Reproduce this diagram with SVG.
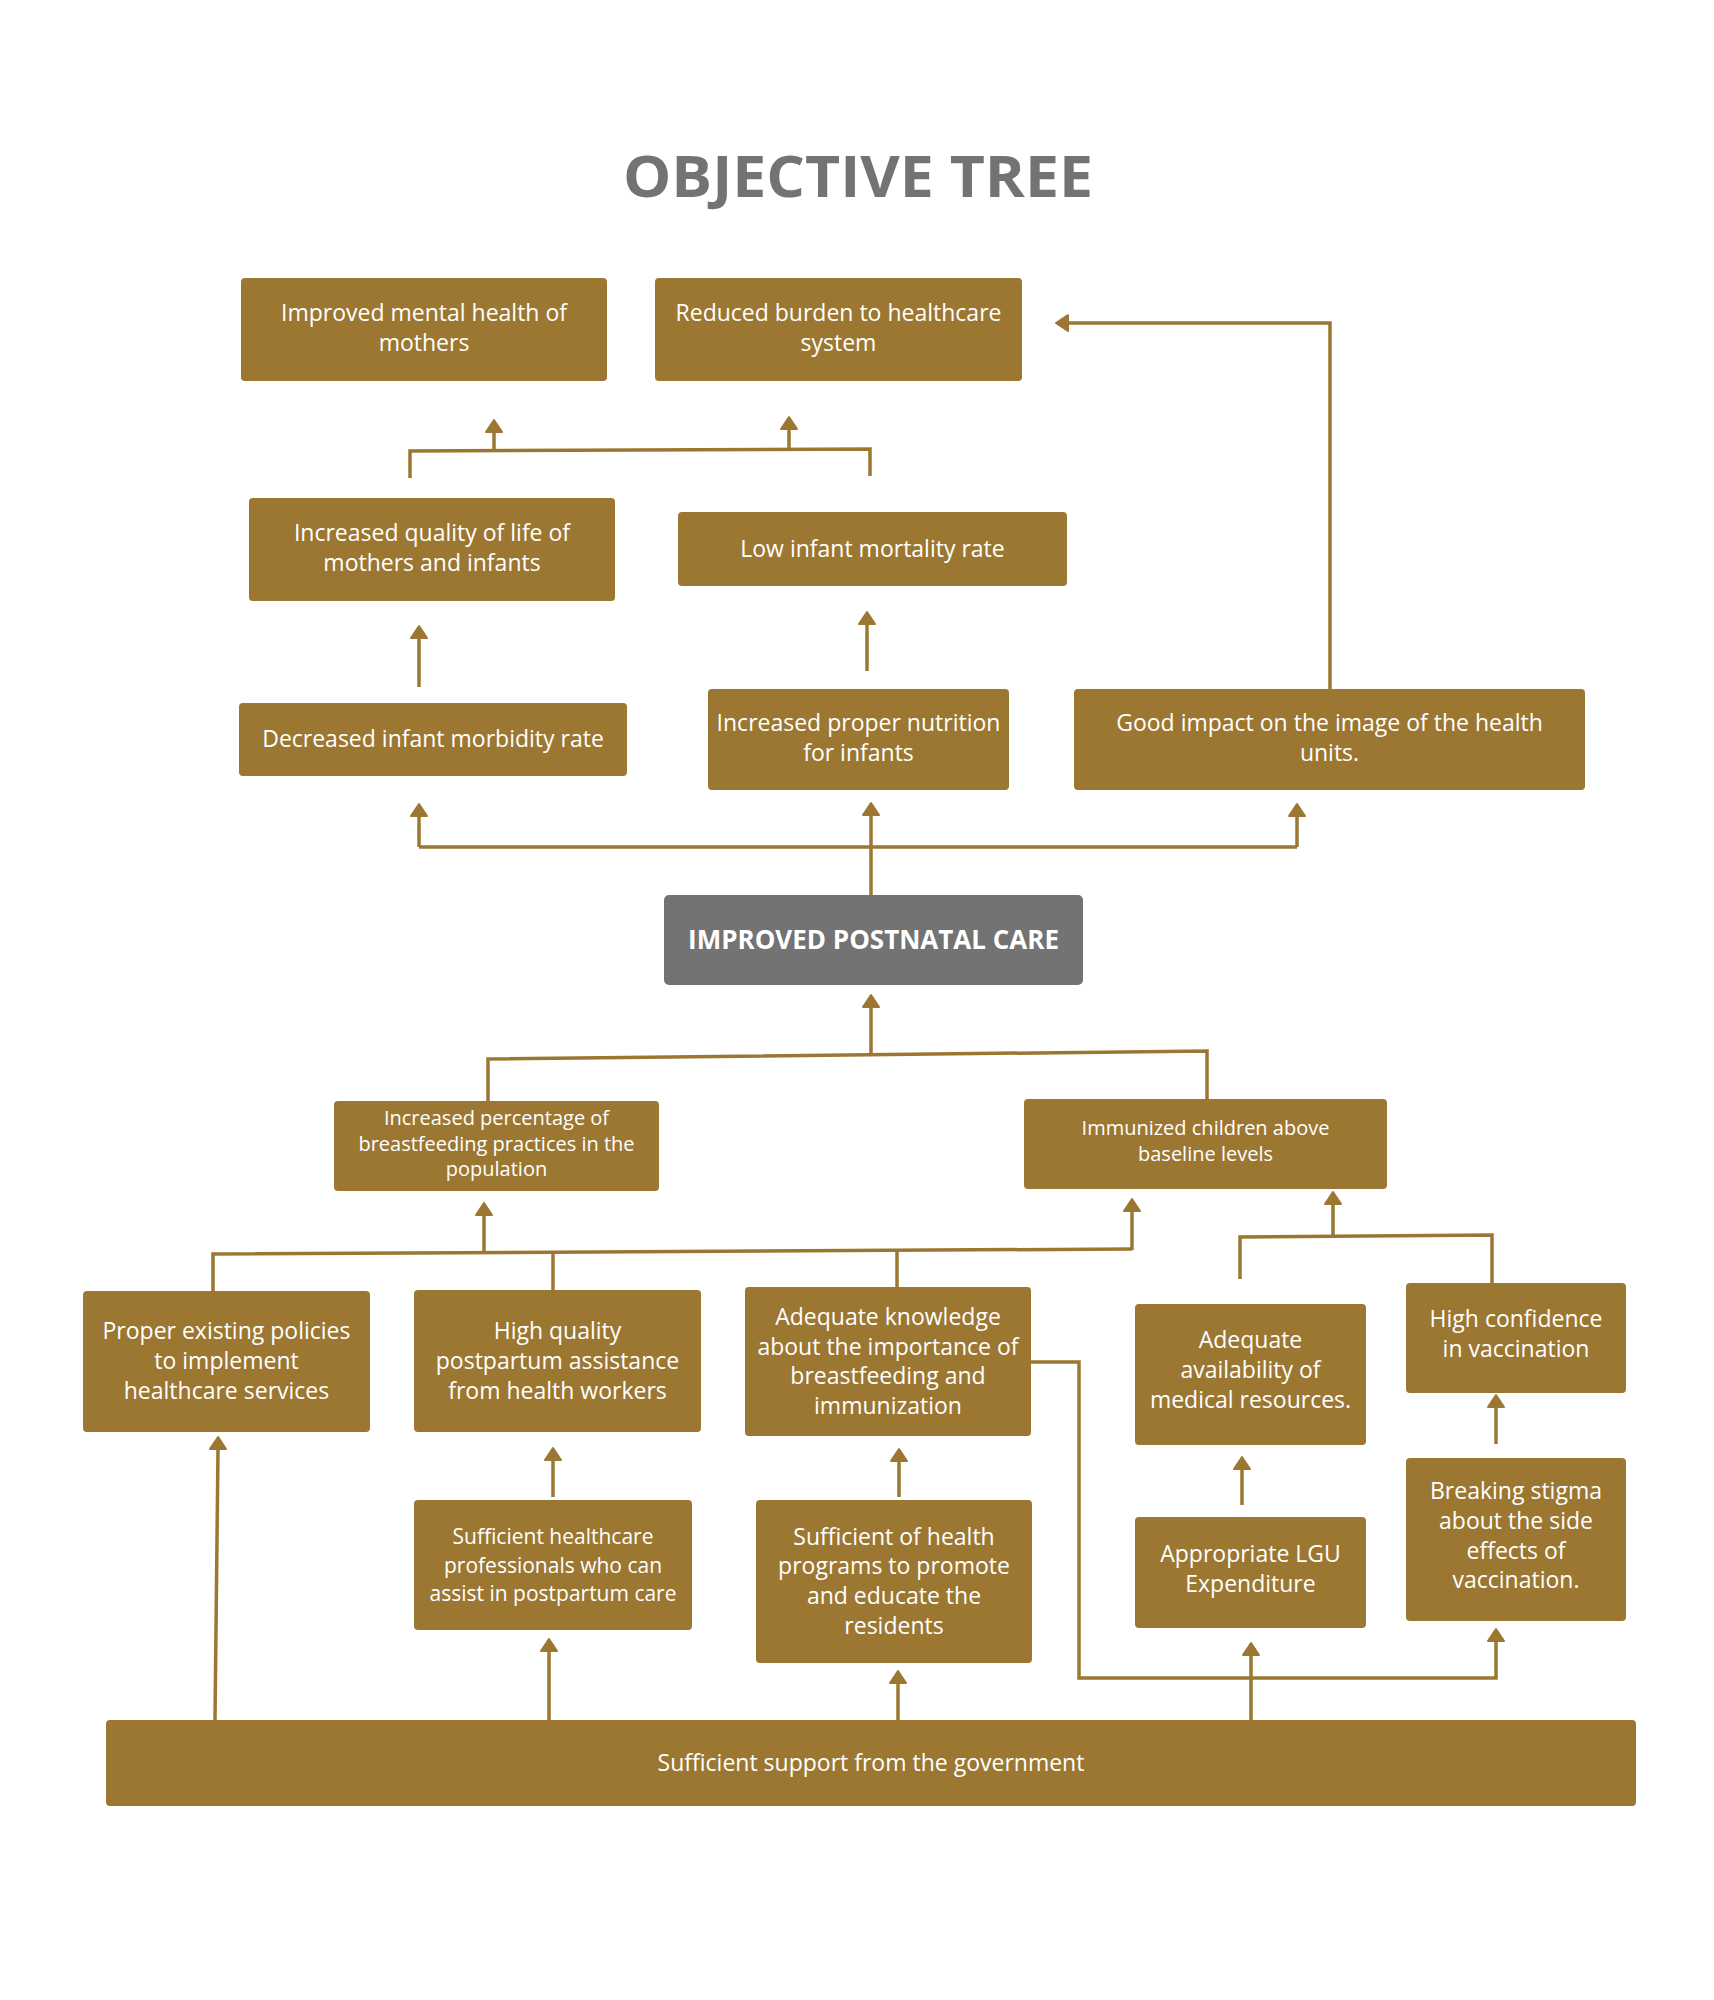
<svg xmlns="http://www.w3.org/2000/svg" width="1714" height="2000" viewBox="0 0 1714 2000">
<style>
.box{fill:#9c7732}
.gbox{fill:#737373}
.t{font-family:"Open Sans","Liberation Sans",sans-serif;fill:#ffffff;text-anchor:middle;font-size:23px}
.s{font-size:20px}
.m{font-size:21px}
.b{font-weight:700;font-size:26px}
.title{font-family:"Open Sans","Liberation Sans",sans-serif;fill:#737373;text-anchor:middle;font-size:58px;font-weight:700}
.c{fill:none;stroke:#9c7732;stroke-width:3.5}
.a{marker-end:url(#ah)}
</style>
<defs>
<marker id="ah" markerUnits="userSpaceOnUse" markerWidth="20" markerHeight="20" refX="0" refY="0" orient="auto" overflow="visible">
<path d="M0,-8 L12,0 L0,8 Z" fill="#9c7732" stroke="#9c7732" stroke-width="2" stroke-linejoin="round"/>
</marker>
</defs>
<rect width="1714" height="2000" fill="#ffffff"/>
<text class="title" x="858" y="197" textLength="470" lengthAdjust="spacingAndGlyphs">OBJECTIVE TREE</text>

<g id="connectors">
<path class="c" d="M410,478 V451 L870,449 V476"/>
<path class="c a" d="M494,451 V432"/>
<path class="c a" d="M789,450 V429"/>
<path class="c a" d="M419,687 V638"/>
<path class="c a" d="M867,671 V624"/>
<path class="c a" d="M1330,689 V323 H1068"/>
<path class="c" d="M419,847 H1297"/>
<path class="c a" d="M419,847 V816"/>
<path class="c a" d="M1297,847 V816"/>
<path class="c a" d="M871,895 V815"/>
<path class="c" d="M488,1101 V1059 L1207,1051 V1099"/>
<path class="c a" d="M871,1056 V1007"/>
<path class="c" d="M213,1291 V1254 L1132,1249"/>
<path class="c a" d="M1132,1250 V1211"/>
<path class="c a" d="M484,1253 V1215"/>
<path class="c" d="M553,1252 V1290"/>
<path class="c" d="M897,1250 V1287"/>
<path class="c" d="M1240,1279 V1237 L1492,1235 V1283"/>
<path class="c a" d="M1333,1236 V1204"/>
<path class="c a" d="M553,1497 V1460"/>
<path class="c a" d="M899,1497 V1461"/>
<path class="c a" d="M1242,1505 V1469"/>
<path class="c a" d="M1496,1444 V1407"/>
<path class="c a" d="M215,1720 L218,1449"/>
<path class="c a" d="M549,1720 V1651"/>
<path class="c a" d="M898,1720 V1683"/>
<path class="c a" d="M1251,1720 V1655"/>
<path class="c a" d="M1031,1362 H1079 V1678 H1496 V1641"/>
</g>

<g id="n1"><rect class="box" x="241" y="278" width="366" height="103" rx="4"/>
<text class="t" x="424" y="321">Improved mental health of</text><text class="t" x="424" y="351">mothers</text></g>
<g id="n2"><rect class="box" x="655" y="278" width="367" height="103" rx="4"/>
<text class="t" x="838.5" y="321">Reduced burden to healthcare</text><text class="t" x="838.5" y="351">system</text></g>
<g id="n3"><rect class="box" x="249" y="498" width="366" height="103" rx="4"/>
<text class="t" x="432" y="541">Increased quality of life of</text><text class="t" x="432" y="571">mothers and infants</text></g>
<g id="n4"><rect class="box" x="678" y="512" width="389" height="74" rx="4"/>
<text class="t" x="872.5" y="557">Low infant mortality rate</text></g>
<g id="n5"><rect class="box" x="239" y="703" width="388" height="73" rx="4"/>
<text class="t" x="433" y="747">Decreased infant morbidity rate</text></g>
<g id="n6"><rect class="box" x="708" y="689" width="301" height="101" rx="4"/>
<text class="t" x="858.5" y="731">Increased proper nutrition</text><text class="t" x="858.5" y="761">for infants</text></g>
<g id="n7"><rect class="box" x="1074" y="689" width="511" height="101" rx="4"/>
<text class="t" x="1329.5" y="731">Good impact on the image of the health</text><text class="t" x="1329.5" y="761">units.</text></g>
<g id="n8"><rect class="gbox" x="664" y="895" width="419" height="90" rx="5"/>
<text class="t b" x="873.5" y="949">IMPROVED POSTNATAL CARE</text></g>
<g id="n9"><rect class="box" x="334" y="1101" width="325" height="90" rx="4"/>
<text class="t s" x="496.5" y="1125">Increased percentage of</text><text class="t s" x="496.5" y="1151">breastfeeding practices in the</text><text class="t s" x="496.5" y="1176">population</text></g>
<g id="n10"><rect class="box" x="1024" y="1099" width="363" height="90" rx="4"/>
<text class="t s" x="1205.5" y="1135">Immunized children above</text><text class="t s" x="1205.5" y="1161">baseline levels</text></g>
<g id="n11"><rect class="box" x="83" y="1291" width="287" height="141" rx="4"/>
<text class="t" x="226.5" y="1339">Proper existing policies</text><text class="t" x="226.5" y="1369">to implement</text><text class="t" x="226.5" y="1399">healthcare services</text></g>
<g id="n12"><rect class="box" x="414" y="1290" width="287" height="142" rx="4"/>
<text class="t" x="557.5" y="1339">High quality</text><text class="t" x="557.5" y="1369">postpartum assistance</text><text class="t" x="557.5" y="1399">from health workers</text></g>
<g id="n13"><rect class="box" x="745" y="1287" width="286" height="149" rx="4"/>
<text class="t" x="888" y="1325">Adequate knowledge</text><text class="t" x="888" y="1355">about the importance of</text><text class="t" x="888" y="1384">breastfeeding and</text><text class="t" x="888" y="1414">immunization</text></g>
<g id="n14"><rect class="box" x="1135" y="1304" width="231" height="141" rx="4"/>
<text class="t" x="1250.5" y="1348">Adequate</text><text class="t" x="1250.5" y="1378">availability of</text><text class="t" x="1250.5" y="1408">medical resources.</text></g>
<g id="n15"><rect class="box" x="1406" y="1283" width="220" height="110" rx="4"/>
<text class="t" x="1516" y="1327">High confidence</text><text class="t" x="1516" y="1357">in vaccination</text></g>
<g id="n16"><rect class="box" x="414" y="1500" width="278" height="130" rx="4"/>
<text class="t m" x="553" y="1544">Sufficient healthcare</text><text class="t m" x="553" y="1573">professionals who can</text><text class="t m" x="553" y="1601">assist in postpartum care</text></g>
<g id="n17"><rect class="box" x="756" y="1500" width="276" height="163" rx="4"/>
<text class="t" x="894" y="1545">Sufficient of health</text><text class="t" x="894" y="1574">programs to promote</text><text class="t" x="894" y="1604">and educate the</text><text class="t" x="894" y="1634">residents</text></g>
<g id="n18"><rect class="box" x="1135" y="1517" width="231" height="111" rx="4"/>
<text class="t" x="1250.5" y="1562">Appropriate LGU</text><text class="t" x="1250.5" y="1592">Expenditure</text></g>
<g id="n19"><rect class="box" x="1406" y="1458" width="220" height="163" rx="4"/>
<text class="t" x="1516" y="1499">Breaking stigma</text><text class="t" x="1516" y="1529">about the side</text><text class="t" x="1516" y="1559">effects of</text><text class="t" x="1516" y="1588">vaccination.</text></g>
<g id="n20"><rect class="box" x="106" y="1720" width="1530" height="86" rx="4"/>
<text class="t" x="871" y="1771">Sufficient support from the government</text></g>
</svg>
